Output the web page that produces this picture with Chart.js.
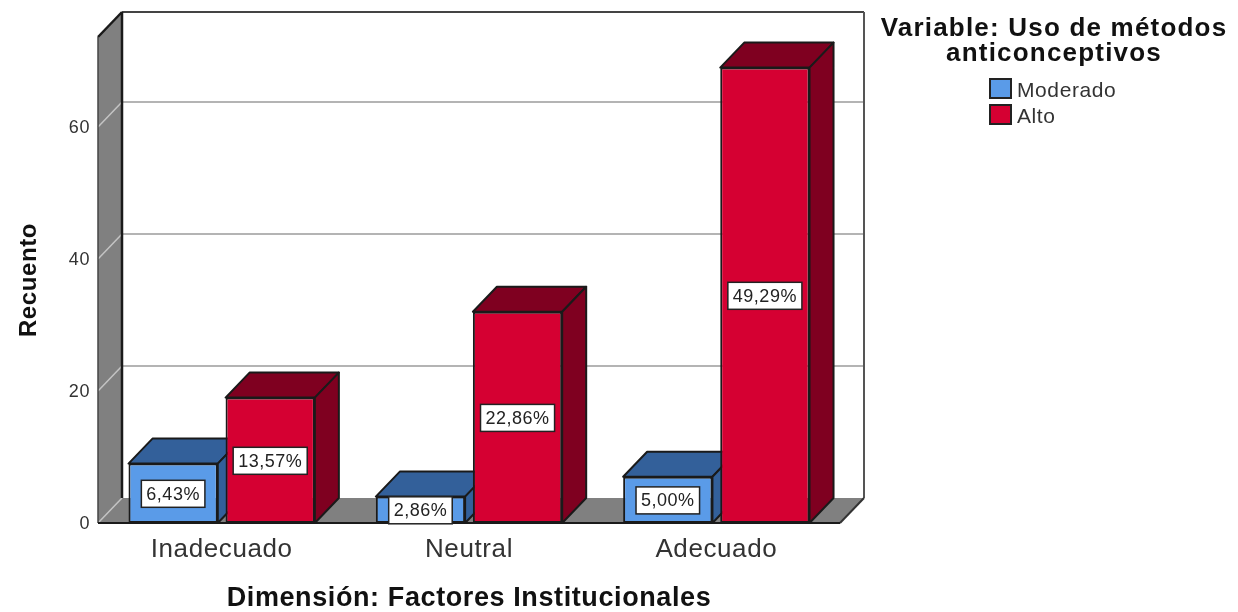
<!DOCTYPE html>
<html>
<head>
<meta charset="utf-8">
<style>html,body{margin:0;padding:0;background:#fff}canvas{display:block}</style>
<script src="https://cdn.jsdelivr.net/npm/chart.js@4"></script>
</head>
<body>
<canvas id="chart" width="1238" height="612"></canvas>
<script>
// Recuento por dimensión y nivel de uso
const categories = ["Inadecuado", "Neutral", "Adecuado"];
const moderado = [9, 4, 7];
const alto = [19, 32, 69];
const moderadoLabels = ["6,43%", "2,86%", "5,00%"];
const altoLabels = ["13,57%", "22,86%", "49,29%"];
const yTicks = [0, 20, 40, 60];
const legendTitle = ["Variable: Uso de métodos", "anticonceptivos"];

const FONT = '"Liberation Sans", Arial, sans-serif';
const DEPTH_X = 24, DEPTH_Y = 25;
const INK = "#1a1a1a";

function poly(ctx, pts, fill, stroke, lw) {
  ctx.beginPath();
  pts.forEach((p, i) => i ? ctx.lineTo(p[0], p[1]) : ctx.moveTo(p[0], p[1]));
  ctx.closePath();
  if (fill) { ctx.fillStyle = fill; ctx.fill(); }
  if (stroke) { ctx.strokeStyle = stroke; ctx.lineWidth = lw || 1; ctx.stroke(); }
}
function seg(ctx, x1, y1, x2, y2, color, lw) {
  ctx.beginPath(); ctx.moveTo(x1, y1); ctx.lineTo(x2, y2);
  ctx.strokeStyle = color; ctx.lineWidth = lw; ctx.stroke();
}

const box3d = {
  id: "box3d",
  // Espaciado de letras común a todos los textos de los ejes
  beforeDraw(chart) {
    chart.ctx.letterSpacing = "0.6px";
  },
  // Paredes, suelo y líneas de cuadrícula de la caja en perspectiva
  beforeDatasetsDraw(chart) {
    const { ctx, chartArea: a, scales: { y } } = chart;
    const bx = DEPTH_X, by = DEPTH_Y;
    ctx.save();
    poly(ctx, [[a.left, a.top], [a.left + bx, a.top - by], [a.left + bx, a.bottom - by], [a.left, a.bottom]], "#808080");
    poly(ctx, [[a.left, a.bottom], [a.left + bx, a.bottom - by], [a.right + bx, a.bottom - by], [a.right, a.bottom]], "#808080");
    yTicks.forEach(v => {
      const py = y.getPixelForValue(v);
      seg(ctx, a.left, py, a.left + bx, py - by, "#c4c4c4", 1.5);
      if (v > 0) seg(ctx, a.left + bx, py - by, a.right + bx, py - by, "#b4b4b4", 2);
    });
    seg(ctx, a.left + bx, a.top - by, a.right + bx, a.top - by, "#444", 2);
    seg(ctx, a.right + bx, a.top - by, a.right + bx, a.bottom - by, "#555", 2);
    seg(ctx, a.left + bx, a.top - by, a.left + bx, a.bottom - by, INK, 2.5);
    seg(ctx, a.left, a.top, a.left + bx, a.top - by, INK, 2.5);
    seg(ctx, a.left, a.top, a.left, a.bottom, "#444", 1.5);
    seg(ctx, a.right, a.bottom, a.right + bx, a.bottom - by, "#333", 2);
    seg(ctx, a.left, a.bottom, a.right, a.bottom, INK, 2);

    // Cada serie: caras superior y lateral y luego la frontal, de izquierda a derecha
    ctx.lineJoin = "round";
    chart.data.datasets.forEach((ds, d) => {
      const meta = chart.getDatasetMeta(d);
      meta.data.forEach(bar => {
        const p = bar.getProps(["x", "y", "base", "width"], true);
        const l = p.x - p.width / 2, r = p.x + p.width / 2;
        poly(ctx, [[l, p.y], [l + bx, p.y - by], [r + bx, p.y - by], [r, p.y]], ds.shadeColor, INK, 2);
        poly(ctx, [[r, p.y], [r + bx, p.y - by], [r + bx, p.base - by], [r, p.base]], ds.shadeColor, INK, 2);
      });
      meta.controller.draw();
    });
    ctx.restore();
  },
  // La serie ya se ha dibujado en el orden de arriba
  beforeDatasetDraw() {
    return false;
  },
  // Etiquetas de porcentaje en cajas blancas
  afterDatasetsDraw(chart) {
    const { ctx } = chart;
    ctx.save();
    ctx.font = "18px " + FONT;
    ctx.letterSpacing = "0.5px";
    ctx.textAlign = "center";
    ctx.textBaseline = "middle";
    chart.data.datasets.forEach((ds, d) => {
      chart.getDatasetMeta(d).data.forEach((bar, i) => {
        const { x, y, base } = bar.getProps(["x", "y", "base"], true);
        const cy = (y + base) / 2 + 0.5, txt = ds.percentLabels[i];
        const w = ctx.measureText(txt).width + 10, h = 27;
        ctx.fillStyle = "#fff";
        ctx.fillRect(x - w / 2, cy - h / 2, w, h);
        ctx.strokeStyle = "#222";
        ctx.lineWidth = 1.5;
        ctx.strokeRect(x - w / 2, cy - h / 2, w, h);
        ctx.fillStyle = "#222";
        ctx.fillText(txt, x, cy + 1);
      });
    });
    ctx.restore();
  },
  // Leyenda a la derecha del gráfico
  afterDraw(chart) {
    const { ctx } = chart;
    ctx.save();
    ctx.textBaseline = "middle";
    ctx.textAlign = "center";
    ctx.font = "bold 26px " + FONT;
    ctx.letterSpacing = "1.2px";
    ctx.fillStyle = "#111";
    ctx.fillText(legendTitle[0], 1054, 29);
    ctx.fillText(legendTitle[1], 1054, 54);
    ctx.textAlign = "left";
    ctx.font = "21px " + FONT;
    ctx.letterSpacing = "0.6px";
    chart.data.datasets.forEach((ds, i) => {
      const top = 79 + i * 26;
      ctx.fillStyle = ds.backgroundColor;
      ctx.fillRect(990, top, 21, 19);
      ctx.strokeStyle = "#222";
      ctx.lineWidth = 2;
      ctx.strokeRect(990, top, 21, 19);
      ctx.fillStyle = "#333";
      ctx.fillText(ds.label, 1017, top + 12);
    });
    ctx.restore();
  }
};

new Chart(document.getElementById("chart"), {
  type: "bar",
  plugins: [box3d],
  data: {
    labels: categories,
    datasets: [
      { label: "Moderado", data: moderado, percentLabels: moderadoLabels,
        backgroundColor: "#5a9be8", shadeColor: "#33609a", borderColor: INK, borderWidth: 2, borderSkipped: false },
      { label: "Alto", data: alto, percentLabels: altoLabels,
        backgroundColor: "#d50032", shadeColor: "#7f0020", borderColor: INK, borderWidth: 2, borderSkipped: false }
    ]
  },
  options: {
    responsive: false,
    animation: false,
    events: [],
    categoryPercentage: 0.785,
    barPercentage: 0.92,
    layout: { padding: { left: 0, right: 398, top: 37, bottom: 0 } },
    plugins: { legend: { display: false }, tooltip: { enabled: false } },
    scales: {
      x: {
        grid: { display: false, drawTicks: false },
        border: { display: false },
        ticks: { color: "#333", padding: 11, font: { family: FONT, size: 26 } },
        title: { display: true, text: "Dimensión: Factores Institucionales", color: "#111",
                 padding: { top: 12, bottom: -3 }, font: { family: FONT, size: 27, weight: "bold" } },
        afterFit(s) { s.height = 89; }
      },
      y: {
        min: 0,
        max: 73.64,
        grid: { display: false, drawTicks: false },
        border: { display: false },
        ticks: { stepSize: 20, includeBounds: false, labelOffset: 1.5, color: "#333", padding: 8, font: { family: FONT, size: 18 } },
        title: { display: true, text: "Recuento", color: "#111",
                 padding: { top: 15, bottom: 0 }, font: { family: FONT, size: 24, weight: "bold" } },
        afterFit(s) { s.width = 98; }
      }
    }
  }
});
</script>
</body>
</html>
